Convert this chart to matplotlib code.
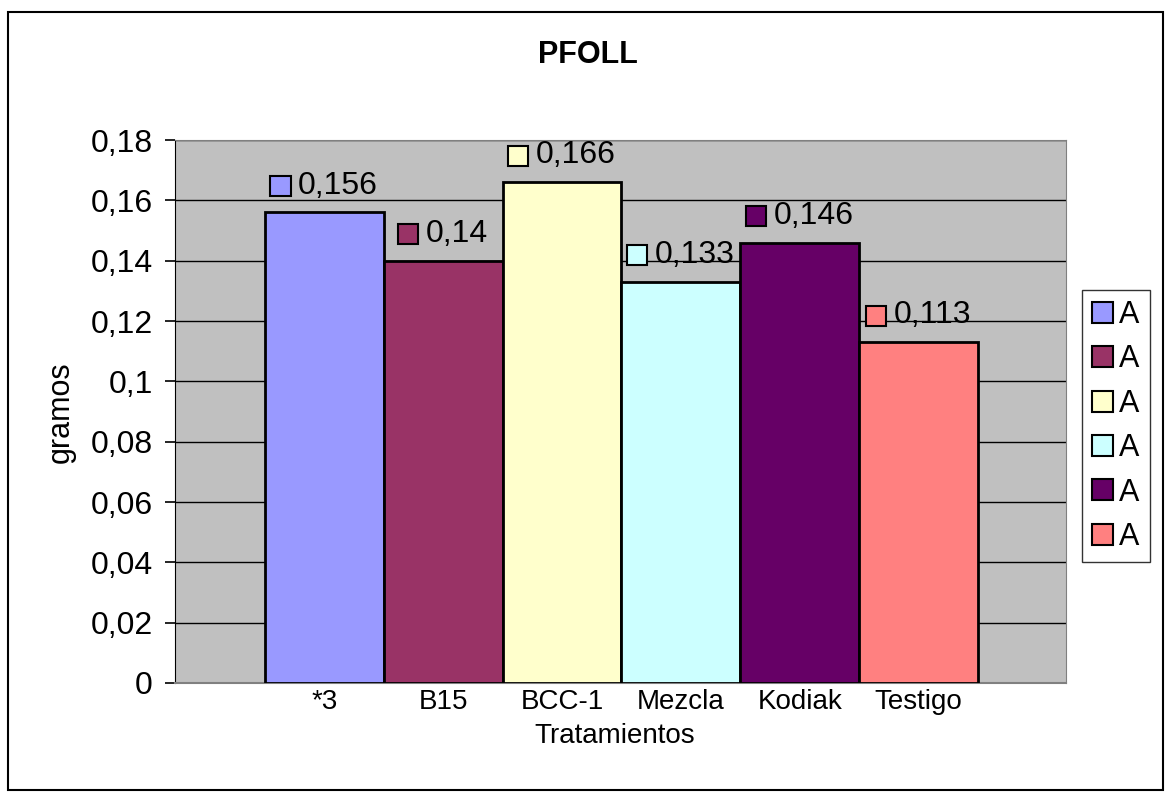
import matplotlib
matplotlib.use("Agg")
import matplotlib.pyplot as plt
from matplotlib.patches import Patch, Rectangle
from matplotlib.offsetbox import AnnotationBbox, DrawingArea, HPacker, TextArea

plt.rcParams['font.family'] = ['Liberation Sans', 'DejaVu Sans']

# Datos
tratamientos = ["*3", "B15", "BCC-1", "Mezcla", "Kodiak", "Testigo"]
gramos = [0.156, 0.14, 0.166, 0.133, 0.146, 0.113]
etiquetas = ["0,156", "0,14", "0,166", "0,133", "0,146", "0,113"]
leyenda = ["A", "A", "A", "A", "A", "A"]
colores = ["#9999FF", "#993366", "#FFFFCC", "#CCFFFF", "#660066", "#FF8080"]
y_ticks = [0, 0.02, 0.04, 0.06, 0.08, 0.1, 0.12, 0.14, 0.16, 0.18]
y_labels = ["0", "0,02", "0,04", "0,06", "0,08", "0,1", "0,12", "0,14", "0,16", "0,18"]

W, H = 1165, 792
fig = plt.figure(figsize=(W / 100, H / 100), dpi=100)
ax = fig.add_axes([175 / W, 1 - 683 / H, (1066 - 175) / W, (683 - 140) / H])
ax.set_facecolor("#C0C0C0")

xs = list(range(len(tratamientos)))
ax.bar(xs, gramos, width=1.0, color=colores, edgecolor="black", linewidth=2, zorder=3)

ax.set_xlim(-0.5 - 0.756, len(xs) - 0.5 + 0.74)
ax.set_ylim(0, 0.18)
ax.set_yticks(y_ticks)
ax.set_yticklabels(y_labels, fontsize=23)
ax.set_xticks(xs)
ax.set_xticklabels(tratamientos, fontsize=20)
ax.tick_params(axis="x", length=0, pad=4)
ax.tick_params(axis="y", length=7, width=1.2, pad=9)
ax.yaxis.grid(True, color="black", linewidth=1, zorder=0)
ax.set_axisbelow(True)

for s in ["top", "right"]:
    ax.spines[s].set_color("#808080")
ax.spines["left"].set_color("black")
ax.spines["bottom"].set_color("#808080")
ax.spines["bottom"].set_linewidth(1.5)

# etiquetas de datos con clave de leyenda
for x, v, txt, c in zip(xs, gramos, etiquetas, colores):
    da = DrawingArea(15, 15, 0, 0)
    da.add_artist(Rectangle((0, 0), 14.5, 14.5, facecolor=c, edgecolor="black", linewidth=1.5))
    ta = TextArea(txt, textprops=dict(fontsize=23))
    box = HPacker(children=[da, ta], align="center", pad=0, sep=5)
    ab = AnnotationBbox(box, (x, v), xybox=(0, 8.5), xycoords="data",
                        boxcoords="offset points", box_alignment=(0.5, 0),
                        frameon=False, zorder=5)
    ax.add_artist(ab)

fig.text(588 / W, 1 - 55 / H, "PFOLL", fontsize=22, fontweight="bold",
         ha="center", va="center")
fig.text(61 / W, 1 - 412 / H, "gramos", fontsize=22, rotation=90,
         ha="center", va="center")
fig.text(615 / W, 1 - 743 / H, "Tratamientos", fontsize=20,
         ha="center", va="baseline")

handles = [Patch(facecolor=c, edgecolor="black", linewidth=1.5) for c in colores]
leg = fig.legend(handles, leyenda, loc="upper left",
                 bbox_to_anchor=(1082 / W, 1 - 290 / H), fontsize=22,
                 frameon=True, fancybox=False, edgecolor="black",
                 handlelength=0.69, handleheight=0.69, handletextpad=0.2,
                 labelspacing=0.47, borderpad=0.33, borderaxespad=0)
leg.get_frame().set_linewidth(1)

# borde de la figura
fig.patches.append(Rectangle((8 / W, 1 - 790 / H), (1163 - 8) / W, (790 - 12) / H,
                             transform=fig.transFigure, fill=False,
                             edgecolor="black", linewidth=1.5))

fig.savefig("out.png", dpi=100)
